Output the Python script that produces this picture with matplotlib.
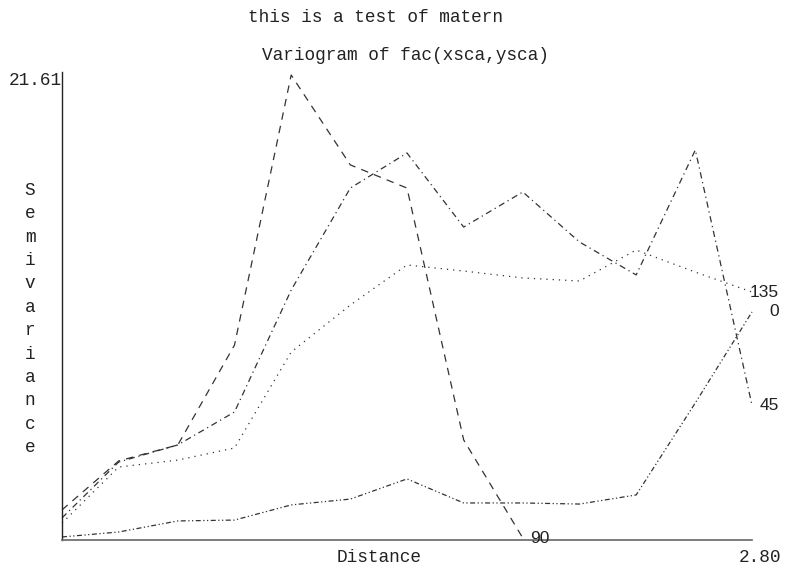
import matplotlib.pyplot as plt

# lag distances and semivariance per direction
distance = [0.00, 0.23, 0.47, 0.70, 0.93, 1.17, 1.40, 1.63, 1.87, 2.10, 2.33, 2.57, 2.80]
gamma_0 = [0.14, 0.37, 0.88, 0.92, 1.62, 1.89, 2.82, 1.71, 1.71, 1.66, 2.08, 6.33, 10.53]
gamma_45 = [1.02, 3.60, 4.39, 5.91, 11.54, 16.25, 17.87, 14.45, 16.07, 13.76, 12.24, 18.01, 6.23]
gamma_90 = [1.39, 3.65, 4.39, 9.00, 21.47, 17.32, 16.25, 4.62, 0.09]
gamma_135 = [0.78, 3.37, 3.69, 4.25, 8.68, 10.85, 12.70, 12.42, 12.10, 11.96, 13.39, 12.37, 11.45]
directions = ['0', '45', '90', '135']

ymax = 21.61
xmax = 2.80

mono = 'Liberation Mono'
fig = plt.figure(figsize=(7.86, 5.74), dpi=100)
ax = fig.add_axes([62 / 786, 34 / 574, 690 / 786, 468 / 574])

line_col = '#333333'
series = [
    (gamma_0, (0, (4, 2, 1, 2, 1, 2))),
    (gamma_45, (0, (5, 3, 1, 3))),
    (gamma_90, (0, (6, 5))),
    (gamma_135, (0, (1, 4))),
]
for (vals, ls), name in zip(series, directions):
    xs = distance[:len(vals)]
    ax.plot(xs, vals, color=line_col, lw=0.9, linestyle=ls, clip_on=False)
    ax.annotate(name, (xs[-1], vals[-1]), xytext=(19.5, 0), textcoords='offset points',
                ha='right', va='center', fontsize=12.5, family='Liberation Sans',
                color='#222222', annotation_clip=False)

ax.set_xlim(0, xmax)
ax.set_ylim(0, ymax)
ax.set_xticks([])
ax.set_yticks([])
for s in ['top', 'right']:
    ax.spines[s].set_visible(False)
ax.spines['left'].set_color('#222222')
ax.spines['bottom'].set_color('#666666')
ax.spines['left'].set_linewidth(1.0)
ax.spines['bottom'].set_linewidth(1.2)

ax.text(0, 1, f'{ymax:.2f}', transform=ax.transAxes, ha='right', va='top',
        family=mono, fontsize=12.8, color='#222222')
ax.text(1.012, -0.038, f'{xmax:.2f}', transform=ax.transAxes, ha='center', va='center',
        family=mono, fontsize=12.8, color='#222222')

fig.text(379 / 786, 1 - 558 / 574, 'Distance', ha='center', va='center',
         family=mono, fontsize=12.8, color='#222222')
fig.text(375 / 786, 1 - 18 / 574, 'this is a test of matern', ha='center', va='center',
         family=mono, fontsize=12.8, color='#222222')
fig.text(405 / 786, 1 - 55 / 574, 'Variogram of fac(xsca,ysca)', ha='center', va='center',
         family=mono, fontsize=12.8, color='#222222')
fig.text(30 / 786, 1 - 319 / 574, '\n'.join('Semivariance'), ha='center', va='center',
         family=mono, fontsize=12.8, color='#222222', linespacing=1.49)

fig.savefig('out.png', dpi=100)
